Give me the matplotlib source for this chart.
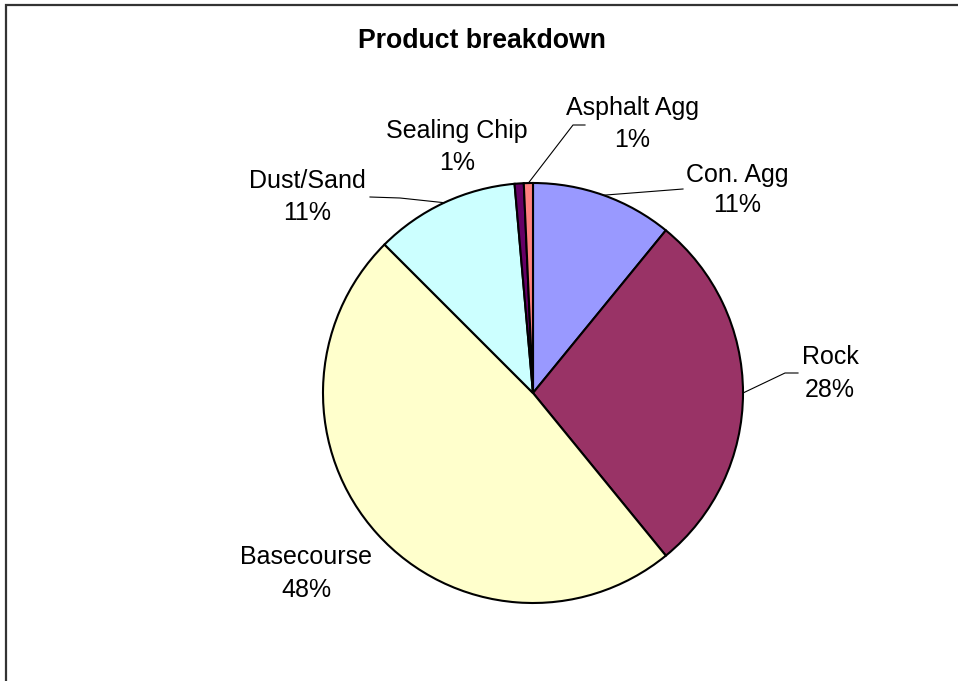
import numpy as np
import matplotlib
matplotlib.use("Agg")
import matplotlib.pyplot as plt
from matplotlib.lines import Line2D
from matplotlib.patches import Rectangle

plt.rcParams['font.family'] = ['Liberation Sans', 'DejaVu Sans']

# data, clockwise from 12 o'clock
products = ["Con. Agg", "Rock", "Basecourse", "Dust/Sand", "Sealing Chip", "Asphalt Agg"]
shares = [10.9, 28.2, 48.4, 11.1, 0.7, 0.7]
colors = ["#9999FF", "#993366", "#FFFFCC", "#CCFFFF", "#660066", "#FF8080"]

W, H = 958, 681
fig = plt.figure(figsize=(W / 100, H / 100), dpi=100)

def fx(px):
	return px / W

def fy(py):  # py measured from the top of the image
	return 1 - py / H

# chart frame (right and bottom edges run off the picture)
fig.add_artist(Rectangle((fx(6), fy(H + 20)), 2.0, fy(5) - fy(H + 20),
	transform=fig.transFigure, fill=False, edgecolor="#333333", lw=1.6))

cx, cy, r = 533, 393, 210
ax = fig.add_axes([fx(cx - r), fy(cy + r), 2 * r / W, 2 * r / H])
wedges, _ = ax.pie(shares, colors=colors, startangle=90, counterclock=False,
	radius=1.0, wedgeprops=dict(edgecolor="black", linewidth=1.5))
ax.set_xlim(-1, 1)
ax.set_ylim(-1, 1)
ax.axis("off")

fig.text(fx(482), fy(48), "Product breakdown", ha="center", va="baseline",
	fontsize=19.2, fontweight="bold")

# label layout: (x centre, baseline line 1, baseline line 2) in pixels from top-left
label_pos = {
	"Con. Agg": (737, 182, 212),
	"Rock": (830, 364, 397),
	"Basecourse": (306, 564, 597),
	"Dust/Sand": (307, 188, 220),
	"Sealing Chip": (457, 138, 170),
	"Asphalt Agg": (632, 115, 147),
}
# leader line start points near the labels
leaders = {
	"Con. Agg": [(683, 189)],
	"Rock": [(798, 373), (785, 373)],
	"Dust/Sand": [(370, 197), (400, 198)],
	"Asphalt Agg": [(585, 125), (573, 125)],
}

for name, val, w in zip(products, shares, wedges):
	x, y1, y2 = label_pos[name]
	fig.text(fx(x), fy(y1), name, ha="center", va="baseline", fontsize=18)
	fig.text(fx(x), fy(y2), "%d%%" % round(val), ha="center", va="baseline", fontsize=18)
	if name in leaders:
		mid = np.deg2rad((w.theta1 + w.theta2) / 2)
		ex = cx + r * np.cos(mid)
		ey = cy - r * np.sin(mid)
		pts = leaders[name] + [(ex, ey)]
		fig.add_artist(Line2D([fx(p[0]) for p in pts], [fy(p[1]) for p in pts],
			transform=fig.transFigure, color="black", lw=0.8))

fig.savefig("out.png", dpi=100)
